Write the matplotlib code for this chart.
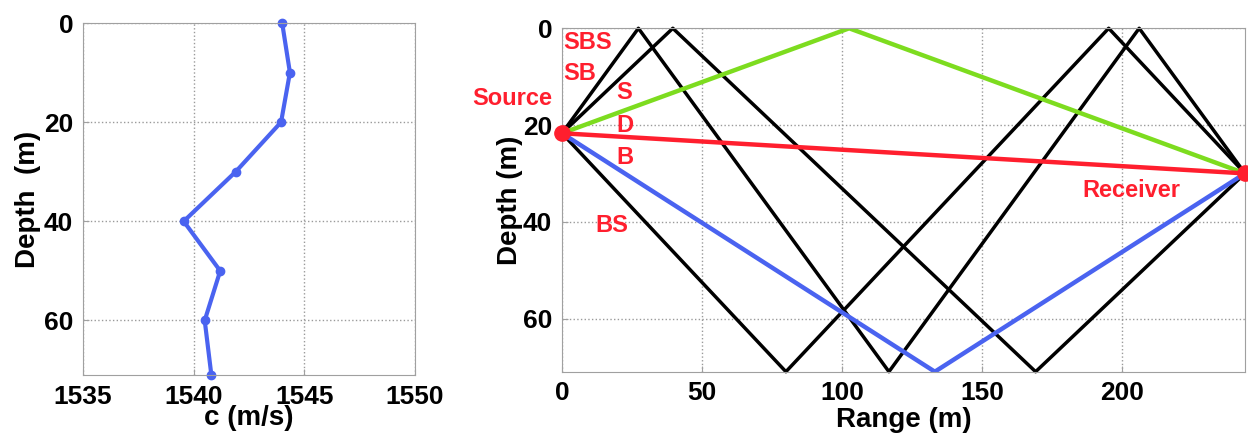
import matplotlib.pyplot as plt

plt.rcParams['font.family'] = ['Liberation Sans', 'DejaVu Sans']
plt.rcParams['font.weight'] = 'bold'

# sound speed profile
depth_c = [0, 10, 20, 30, 40, 50, 60, 71]
speed_c = [1544.0, 1544.35, 1543.95, 1541.9, 1539.55, 1541.2, 1540.5, 1540.8]

# source / receiver geometry
src = (0, 21.7)
rcv = (244, 30)
water_depth = 71

# ray vertices (range, depth)
ray_direct = ([0, 244], [21.7, 30])
ray_surface = ([0, 102.6, 244], [21.7, 0, 30])
ray_bottom = ([0, 133.2, 244], [21.7, 71, 30])
ray_sb = ([0, 39.6, 169.2, 244], [21.7, 0, 71, 30])
ray_sbs = ([0, 27.3, 116.8, 206.2, 244], [21.7, 0, 71, 0, 30])
ray_bs = ([0, 80.0, 195.3, 244], [21.7, 71, 0, 30])

ray_labels = ['SBS', 'SB', 'S', 'D', 'B', 'BS']
label_pos = [(0.4, 2.9), (0.4, 9.4), (19.5, 13.3), (19.5, 20.0), (19.5, 26.7), (12.0, 40.8)]

red = '#ff1f2e'
blue = '#4a63f0'
green = '#7ddc1f'

fig = plt.figure(figsize=(12.48, 4.40), dpi=100)


def style_axes(ax):
    ax.grid(True, linestyle=':', color='#9a9a9a', linewidth=1.0)
    for s in ax.spines.values():
        s.set_color('#a0a0a0')
    ax.tick_params(direction='in', length=4, color='#a0a0a0', labelsize=19, pad=7)
    for lab in ax.get_xticklabels() + ax.get_yticklabels():
        lab.set_fontweight('bold')


# left: sound speed profile
ax1 = fig.add_axes([0.0665, 0.1477, 0.266, 0.80])
ax1.plot(speed_c, depth_c, color=blue, linewidth=3, marker='o', markersize=6, clip_on=False)
ax1.set_xlim(1535, 1550)
ax1.set_ylim(71, 0)
ax1.set_xticks([1535, 1540, 1545, 1550])
ax1.set_yticks([0, 20, 40, 60])
ax1.set_xlabel('c (m/s)', fontsize=20, fontweight='bold', labelpad=-3)
ax1.set_ylabel('Depth  (m)', fontsize=20, fontweight='bold', labelpad=2)
style_axes(ax1)

# right: eigenrays
ax2 = fig.add_axes([0.4503, 0.1552, 0.5473, 0.7805])
for xs, ys in (ray_sbs, ray_sb, ray_bs):
    ax2.plot(xs, ys, color='black', linewidth=2.5, clip_on=False)
ax2.plot(*ray_surface, color=green, linewidth=3.2)
ax2.plot(*ray_bottom, color=blue, linewidth=3.2)
ax2.plot(*ray_direct, color=red, linewidth=3.2)
ax2.plot(*src, 'o', color=red, markersize=11, clip_on=False, zorder=5)
ax2.plot(*rcv, 'o', color=red, markersize=11, clip_on=False, zorder=5)
ax2.set_xlim(0, 244)
ax2.set_ylim(water_depth, 0)
ax2.set_xticks([0, 50, 100, 150, 200])
ax2.set_yticks([0, 20, 40, 60])
ax2.set_xlabel('Range (m)', fontsize=20, fontweight='bold', labelpad=1)
ax2.set_ylabel('Depth (m)', fontsize=20, fontweight='bold', labelpad=0)
style_axes(ax2)

for lab, (x, y) in zip(ray_labels, label_pos):
    ax2.text(x, y, lab, color=red, fontsize=17, fontweight='bold', va='center', ha='left')
ax2.text(-3.5, 14.6, 'Source', color=red, fontsize=17, fontweight='bold',
         va='center', ha='right', clip_on=False)
ax2.text(186, 33.5, 'Receiver', color=red, fontsize=17, fontweight='bold',
         va='center', ha='left')

fig.savefig('out.png', dpi=100)
